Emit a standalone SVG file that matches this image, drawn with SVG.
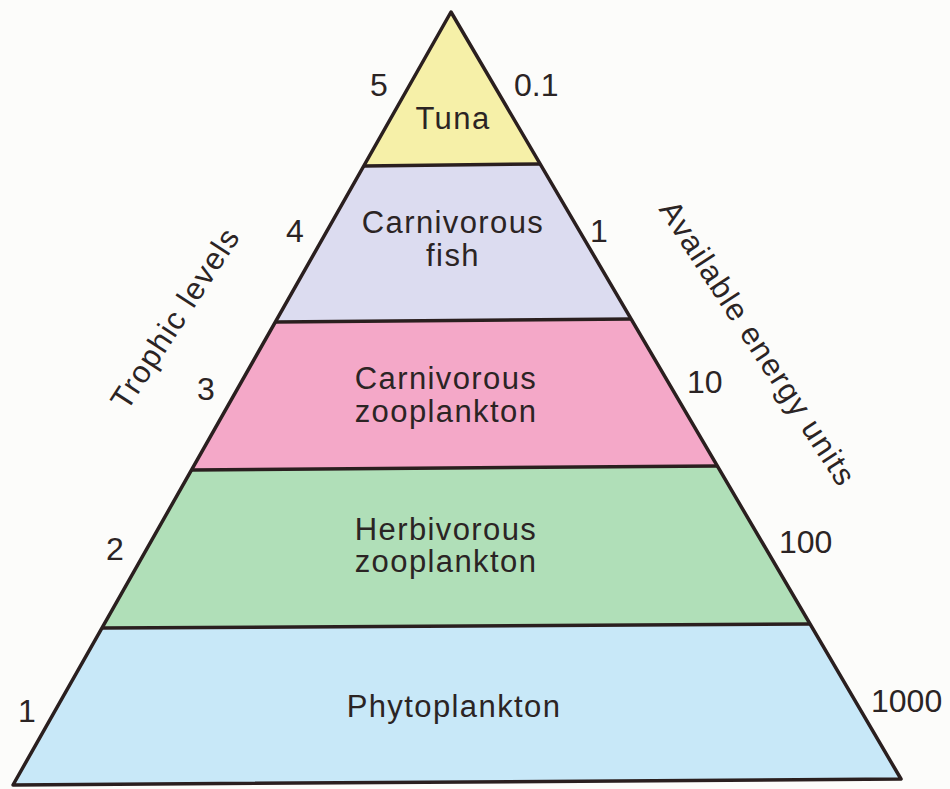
<svg xmlns="http://www.w3.org/2000/svg" width="950" height="789" viewBox="0 0 950 789">
<style>
.lbl{font-family:"Liberation Sans",Arial,sans-serif;font-size:31px;fill:#2b2424;letter-spacing:1.4px;text-anchor:middle}
.num{font-family:"Liberation Sans",Arial,sans-serif;font-size:32px;fill:#2b2424}
.band{stroke:none}
.edge{fill:none;stroke:#2a1f1f;stroke-width:3.5;stroke-linejoin:round}
.div{stroke:#2a1f1f;stroke-width:3.5}
</style>
<rect width="950" height="789" fill="#fcfcfa"/>
<g id="tuna">
<polygon class="band" fill="#f6f0a8" points="451,12 540,164 364,166"/>
<text class="lbl" x="453" y="129">Tuna</text>
</g>
<g id="carnivorous-fish">
<polygon class="band" fill="#dcdcf0" points="364,166 540,164 631,319 276,322"/>
<text class="lbl" x="453" y="233">Carnivorous</text>
<text class="lbl" x="453" y="266">fish</text>
</g>
<g id="carnivorous-zooplankton">
<polygon class="band" fill="#f4a8c8" points="276,322 631,319 717,466 192,470"/>
<text class="lbl" x="446" y="389">Carnivorous</text>
<text class="lbl" x="446" y="422">zooplankton</text>
</g>
<g id="herbivorous-zooplankton">
<polygon class="band" fill="#b0dfb8" points="192,470 717,466 810,624 102,628"/>
<text class="lbl" x="446" y="540">Herbivorous</text>
<text class="lbl" x="446" y="572">zooplankton</text>
</g>
<g id="phytoplankton">
<polygon class="band" fill="#c8e8f8" points="102,628 810,624 901,779 13,785"/>
<text class="lbl" x="454" y="717">Phytoplankton</text>
</g>
<g id="connectors">
<line class="div" x1="364" y1="166" x2="540" y2="164"/>
<line class="div" x1="276" y1="322" x2="631" y2="319"/>
<line class="div" x1="192" y1="470" x2="717" y2="466"/>
<line class="div" x1="102" y1="628" x2="810" y2="624"/>
<polygon class="edge" points="451,12 901,779 13,785"/>
</g>
<g id="trophic-levels">
<text class="lbl" x="184" y="324" transform="rotate(-57 184 324)">Trophic levels</text>
<text class="num" x="370" y="96">5</text>
<text class="num" x="286" y="242">4</text>
<text class="num" x="197" y="400">3</text>
<text class="num" x="106" y="560">2</text>
<text class="num" x="18" y="722">1</text>
</g>
<g id="energy-units">
<text class="lbl" x="749" y="349" transform="rotate(57 749 349)">Available energy units</text>
<text class="num" x="514" y="96">0.1</text>
<text class="num" x="590" y="242">1</text>
<text class="num" x="687" y="393">10</text>
<text class="num" x="779" y="553">100</text>
<text class="num" x="871" y="712">1000</text>
</g>
</svg>
